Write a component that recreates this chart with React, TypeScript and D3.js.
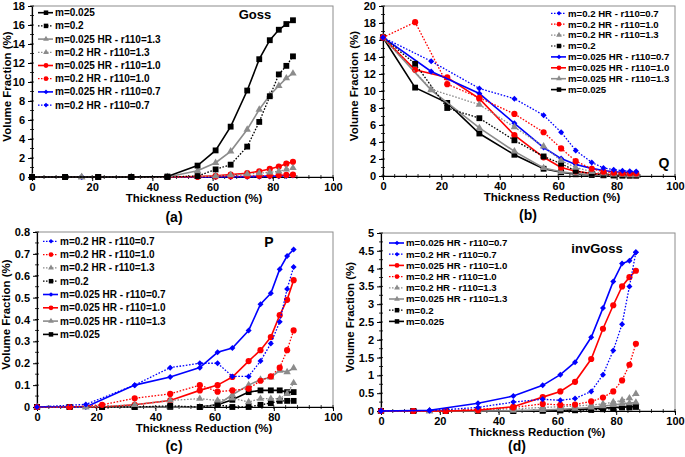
import React, { useRef, useEffect } from 'react';
import * as d3 from 'd3';

// thickness reduction (%) sampled by the simulations
const X_SQ = [0, 11, 22, 33, 45, 55, 61, 66, 71.5, 75.5, 79, 82, 84.5, 86.7];
const X_HR = [0, 16.5, 33, 45, 55, 61, 66, 71.5, 75.5, 79, 82, 84.5, 86.7];
const X_TICKS = [0, 20, 40, 60, 80, 100];

// (a) Goss
const gossM025 = [0, 0, 0, 0, 0.05, 1.2, 2.8, 5.3, 9.1, 12.4, 14.4, 15.5, 16.1, 16.5];
const gossM02 = [0, 0, 0, 0, 0, 0.1, 0.8, 1.3, 3.2, 5.8, 8.5, 10.8, 11.7, 12.7];
const gossR13a = [0, 0, 0, 0, 0.65, 1.5, 2.7, 5.0, 7.1, 8.6, 9.6, 10.4, 10.9];
const gossR13b = [0, 0, 0, 0, 0.05, 0.1, 0.2, 0.3, 0.4, 0.5, 0.6, 0.8, 0.95];
const gossR10a = [0, 0, 0, 0, 0, 0.05, 0.12, 0.25, 0.4, 0.6, 0.85, 1.1, 1.4, 1.6];
const gossR10b = [0, 0, 0, 0, 0, 0.02, 0.05, 0.08, 0.1, 0.12, 0.15, 0.18, 0.22, 0.25];
const gossR07a = [0, 0, 0, 0, 0, 0.02, 0.03, 0.05, 0.07, 0.09, 0.12, 0.18, 0.25];
const gossR07b = [0, 0, 0, 0, 0, 0, 0.01, 0.02, 0.03, 0.05, 0.07, 0.1, 0.15];

// (b) Q
const qM025 = [16.3, 10.4, 8.6, 5.0, 2.5, 0.85, 0.45, 0.2, 0.12, 0.08, 0.06, 0.05, 0.05, 0.05];
const qM02 = [16.3, 13.2, 8.0, 6.8, 4.2, 2.3, 1.45, 0.6, 0.25, 0.15, 0.1, 0.08, 0.07, 0.07];
const qR10a = [16.3, 12.5, 11.6, 9.1, 4.8, 2.2, 1.0, 0.55, 0.3, 0.2, 0.15, 0.12, 0.1, 0.1];
const qR10b = [16.3, 18.1, 10.8, 9.2, 7.3, 5.15, 3.25, 1.75, 0.85, 0.5, 0.38, 0.32, 0.3, 0.3];
const qR07a = [16.3, 12.3, 9.7, 6.2, 3.35, 2.05, 1.35, 0.9, 0.65, 0.5, 0.45, 0.42, 0.4];
const qR07b = [16.3, 13.5, 10.3, 9.1, 7.15, 5.15, 3.0, 1.6, 0.95, 0.75, 0.62, 0.55, 0.52];
const qR13a = [16.3, 10.1, 5.65, 2.9, 0.95, 0.5, 0.3, 0.15, 0.1, 0.08, 0.06, 0.05, 0.05];
const qR13b = [16.3, 10.2, 8.4, 5.75, 3.5, 1.8, 1.0, 0.5, 0.3, 0.2, 0.15, 0.12, 0.1];

// (c) P
const pM025 = [0, 0, 0, 0, 0, 0, 0.01, 0.033, 0.068, 0.076, 0.076, 0.076, 0.068, 0.068];
const pM02 = [0, 0, 0, 0, 0.005, 0, 0.01, 0, 0, 0.01, 0.018, 0.028, 0.028, 0.028];
const pR10a = [0, 0, 0, 0.01, 0.03, 0.076, 0.1, 0.137, 0.21, 0.26, 0.32, 0.42, 0.49, 0.58];
const pR10b = [0, 0, 0.01, 0.04, 0.06, 0.1, 0.07, 0.076, 0.084, 0.12, 0.14, 0.18, 0.26, 0.35];
const pR07a = [0, 0, 0.1, 0.137, 0.18, 0.25, 0.27, 0.35, 0.47, 0.52, 0.63, 0.69, 0.72];
const pR07b = [0, 0.012, 0.1, 0.18, 0.2, 0.2, 0.14, 0.14, 0.21, 0.29, 0.39, 0.54, 0.64];
const pR13a = [0, 0, 0, 0, 0, 0.01, 0.056, 0.1, 0.125, 0.136, 0.166, 0.16, 0.178];
const pR13b = [0, 0, 0.01, 0.03, 0.038, 0.03, 0.04, 0.023, 0.038, 0.038, 0.038, 0.06, 0.11];

// (d) invGoss
const iM025 = [0, 0, 0, 0, 0, 0.01, 0.02, 0.04, 0.06, 0.08, 0.1, 0.11, 0.12, 0.12];
const iM02 = [0, 0, 0, 0, 0, 0.01, 0.02, 0.02, 0.03, 0.05, 0.07, 0.1, 0.1, 0.12];
const iR10a = [0, 0, 0, 0.02, 0.12, 0.39, 0.55, 0.82, 1.46, 2.31, 2.97, 3.5, 3.76, 3.94];
const iR10b = [0, 0, 0, 0.05, 0.1, 0.2, 0.17, 0.18, 0.27, 0.38, 0.55, 0.86, 1.3, 1.89];
const iR07a = [0, 0.02, 0.22, 0.42, 0.72, 1.02, 1.37, 2.07, 2.89, 3.64, 4.14, 4.22, 4.46];
const iR07b = [0, 0.01, 0.1, 0.25, 0.33, 0.3, 0.35, 0.55, 1.02, 1.7, 2.44, 3.5, 4.46];
const iR13a = [0, 0, 0, 0.01, 0.03, 0.05, 0.07, 0.1, 0.14, 0.17, 0.2, 0.22, 0.24];
const iR13b = [0, 0, 0.03, 0.06, 0.1, 0.12, 0.14, 0.17, 0.2, 0.25, 0.3, 0.36, 0.48];

const LABELS: Record<string, string> = {
  m025: 'm=0.025',
  m02: 'm=0.2',
  r13a: 'm=0.025 HR - r110=1.3',
  r13b: 'm=0.2 HR - r110=1.3',
  r10a: 'm=0.025 HR - r110=1.0',
  r10b: 'm=0.2 HR - r110=1.0',
  r07a: 'm=0.025 HR - r110=0.7',
  r07b: 'm=0.2 HR - r110=0.7',
};

const ORDER_A = ['m025', 'm02', 'r13a', 'r13b', 'r10a', 'r10b', 'r07a', 'r07b'];
const ORDER_BC = ['r07b', 'r10b', 'r13b', 'm02', 'r07a', 'r10a', 'r13a', 'm025'];
const ORDER_D = ['r07a', 'r07b', 'r10a', 'r10b', 'r13b', 'r13a', 'm02', 'm025'];

const STYLE: Record<string, { color: string; dotted: boolean; shape: string; xs: number[] }> = {
  m025: { color: '#000', dotted: false, shape: 'square', xs: X_SQ },
  m02: { color: '#000', dotted: true, shape: 'square', xs: X_SQ },
  r13a: { color: '#8c8c8c', dotted: false, shape: 'triangle', xs: X_HR },
  r13b: { color: '#8c8c8c', dotted: true, shape: 'triangle', xs: X_HR },
  r10a: { color: '#ff0000', dotted: false, shape: 'circle', xs: X_SQ },
  r10b: { color: '#ff0000', dotted: true, shape: 'circle', xs: X_SQ },
  r07a: { color: '#0000ff', dotted: false, shape: 'diamond', xs: X_HR },
  r07b: { color: '#0000ff', dotted: true, shape: 'diamond', xs: X_HR },
};

const PANELS = [
  {
    left: 32, right: 333, top: 6, bottom: 177, yMax: 18, yStep: 2,
    data: { m025: gossM025, m02: gossM02, r13a: gossR13a, r13b: gossR13b, r10a: gossR10a, r10b: gossR10b, r07a: gossR07a, r07b: gossR07b },
    order: ORDER_A, name: 'Goss', nameX: 255, nameY: 14, nameSize: 13,
    leg: { x: 38, y: 12.7, dy: 13.2, size: 10 },
    yTitleX: 7, xTitleX: 194, tagX: 174, tagY: 217, tag: '(a)',
  },
  {
    left: 383, right: 675, top: 6, bottom: 176, yMax: 20, yStep: 2,
    data: { m025: qM025, m02: qM02, r13a: qR13a, r13b: qR13b, r10a: qR10a, r10b: qR10b, r07a: qR07a, r07b: qR07b },
    order: ORDER_BC, name: 'Q', nameX: 664, nameY: 163, nameSize: 14,
    leg: { x: 551, y: 13.3, dy: 10.9, size: 9.6 },
    yTitleX: 354, xTitleX: 552, tagX: 528, tagY: 215, tag: '(b)',
  },
  {
    left: 37, right: 333, top: 232, bottom: 407, yMax: 0.8, yStep: 0.1,
    data: { m025: pM025, m02: pM02, r13a: pR13a, r13b: pR13b, r10a: pR10a, r10b: pR10b, r07a: pR07a, r07b: pR07b },
    order: ORDER_BC, name: 'P', nameX: 269, nameY: 242, nameSize: 14,
    leg: { x: 43, y: 241.3, dy: 13.3, size: 10 },
    yTitleX: 6, xTitleX: 204, tagX: 174, tagY: 446, tag: '(c)',
  },
  {
    left: 381, right: 675, top: 233, bottom: 411, yMax: 5, yStep: 0.5,
    data: { m025: iM025, m02: iM02, r13a: iR13a, r13b: iR13b, r10a: iR10a, r10b: iR10b, r07a: iR07a, r07b: iR07b },
    order: ORDER_D, name: 'invGoss', nameX: 597, nameY: 248, nameSize: 13,
    leg: { x: 389, y: 243, dy: 11.2, size: 9.6 },
    yTitleX: 350, xTitleX: 537, tagX: 517, tagY: 446, tag: '(d)',
  },
];

const FONT = '"Liberation Sans", Arial, sans-serif';

function symbolPath(shape: string, small: boolean) {
  const k = small ? 0.6 : 1;
  if (shape === 'square') return d3.symbol(d3.symbolSquare, 34 * k)();
  if (shape === 'circle') return d3.symbol(d3.symbolCircle, 30 * k)();
  if (shape === 'triangle') return d3.symbol(d3.symbolTriangle, 24 * k)();
  return d3.symbol(d3.symbolSquare, 18 * k)();
}

function drawMarker(g: any, shape: string, color: string, cx: number, cy: number, small = false) {
  g.append('path')
    .attr('d', symbolPath(shape, small))
    .attr('transform', `translate(${cx},${cy})${shape === 'diamond' ? ' rotate(45)' : ''}`)
    .attr('fill', color);
}

export default function App() {
  const ref = useRef<SVGSVGElement>(null);

  useEffect(() => {
    if (!ref.current) return;
    const svg = d3.select(ref.current);
    svg.selectAll('*').remove();

    PANELS.forEach((p) => {
      const g = svg.append('g');
      const x = d3.scaleLinear().domain([0, 100]).range([p.left, p.right]);
      const y = d3.scaleLinear().domain([0, p.yMax]).range([p.bottom, p.top]);
      const fmt = (v: number) => String(+v.toFixed(2));

      // plot frame
      g.append('rect')
        .attr('x', p.left).attr('y', p.top)
        .attr('width', p.right - p.left).attr('height', p.bottom - p.top)
        .attr('fill', 'none').attr('stroke', '#8c8c8c').attr('stroke-width', 1);

      // minor ticks
      d3.range(0, 100.01, 4).forEach((v) => {
        g.append('line').attr('x1', x(v)).attr('x2', x(v))
          .attr('y1', p.bottom - 2).attr('y2', p.bottom + 2)
          .attr('stroke', '#000').attr('stroke-width', 0.8);
      });
      d3.range(0, p.yMax + 1e-6, p.yStep / 2).forEach((v) => {
        g.append('line').attr('x1', p.left - 2).attr('x2', p.left + 2)
          .attr('y1', y(v)).attr('y2', y(v))
          .attr('stroke', '#000').attr('stroke-width', 0.8);
      });

      const xAxis = g.append('g')
        .attr('transform', `translate(0,${p.bottom})`)
        .call(d3.axisBottom(x).tickValues(X_TICKS).tickSize(4).tickSizeOuter(0).tickPadding(2).tickFormat((d: any) => String(d)));
      const yTicks = d3.range(0, p.yMax + 1e-6, p.yStep);
      const yAxis = g.append('g')
        .attr('transform', `translate(${p.left},0)`)
        .call(d3.axisLeft(y).tickValues(yTicks).tickSize(4).tickSizeOuter(0).tickPadding(3).tickFormat((d: any) => fmt(d)));
      [xAxis, yAxis].forEach((a) => {
        a.select('.domain').attr('stroke', '#000').attr('stroke-width', 1.2);
        a.selectAll('.tick line').attr('stroke', '#000');
        a.selectAll('text')
          .attr('font-family', FONT).attr('font-size', 11)
          .attr('font-weight', 'bold').attr('fill', '#000');
      });

      // series, last legend entry drawn first
      const data = p.data as Record<string, number[]>;
      [...p.order].reverse().forEach((key) => {
        const st = STYLE[key];
        const pts: [number, number][] = data[key].map((v, i) => [st.xs[i], v]);
        const line = d3.line<[number, number]>().x((d) => x(d[0])).y((d) => y(d[1]));
        g.append('path')
          .datum(pts)
          .attr('fill', 'none')
          .attr('stroke', st.color)
          .attr('stroke-width', st.dotted ? 1.3 : 1.6)
          .attr('stroke-dasharray', st.dotted ? '1.6,1.6' : null)
          .attr('d', line);
        pts.forEach((d) => drawMarker(g, st.shape, st.color, x(d[0]), y(d[1])));
      });

      // legend
      p.order.forEach((key, i) => {
        const st = STYLE[key];
        const ly = p.leg.y + i * p.leg.dy;
        g.append('line')
          .attr('x1', p.leg.x).attr('x2', p.leg.x + 15)
          .attr('y1', ly).attr('y2', ly)
          .attr('stroke', st.color)
          .attr('stroke-width', st.dotted ? 1.2 : 1.6)
          .attr('stroke-dasharray', st.dotted ? '1.5,1.5' : null);
        drawMarker(g, st.shape, st.color, p.leg.x + 8, ly, true);
        g.append('text')
          .attr('x', p.leg.x + 17).attr('y', ly).attr('dy', '0.35em')
          .attr('font-family', FONT).attr('font-size', p.leg.size).attr('font-weight', 'bold')
          .text(LABELS[key]);
      });

      // annotations and titles
      g.append('text')
        .attr('x', p.nameX).attr('y', p.nameY).attr('dy', '0.35em')
        .attr('text-anchor', 'middle')
        .attr('font-family', FONT).attr('font-size', p.nameSize).attr('font-weight', 'bold')
        .text(p.name);
      g.append('text')
        .attr('x', p.xTitleX).attr('y', p.bottom + 21).attr('dy', '0.35em')
        .attr('text-anchor', 'middle')
        .attr('font-family', FONT).attr('font-size', 11.5).attr('font-weight', 'bold')
        .text('Thickness Reduction (%)');
      g.append('text')
        .attr('x', p.tagX).attr('y', p.tagY).attr('dy', '0.35em')
        .attr('text-anchor', 'middle')
        .attr('font-family', FONT).attr('font-size', 14).attr('font-weight', 'bold')
        .text(p.tag);
      const cy = (p.top + p.bottom) / 2 - 5;
      g.append('text')
        .attr('transform', `translate(${p.yTitleX},${cy}) rotate(-90)`)
        .attr('dy', '0.35em')
        .attr('text-anchor', 'middle')
        .attr('font-family', FONT).attr('font-size', 11.5).attr('font-weight', 'bold')
        .text('Volume Fraction (%)');
    });
  }, []);

  return (
    <svg
      ref={ref}
      width={685}
      height={457}
      style={{ position: 'absolute', left: 0, top: 0, background: '#fff' }}
    />
  );
}
